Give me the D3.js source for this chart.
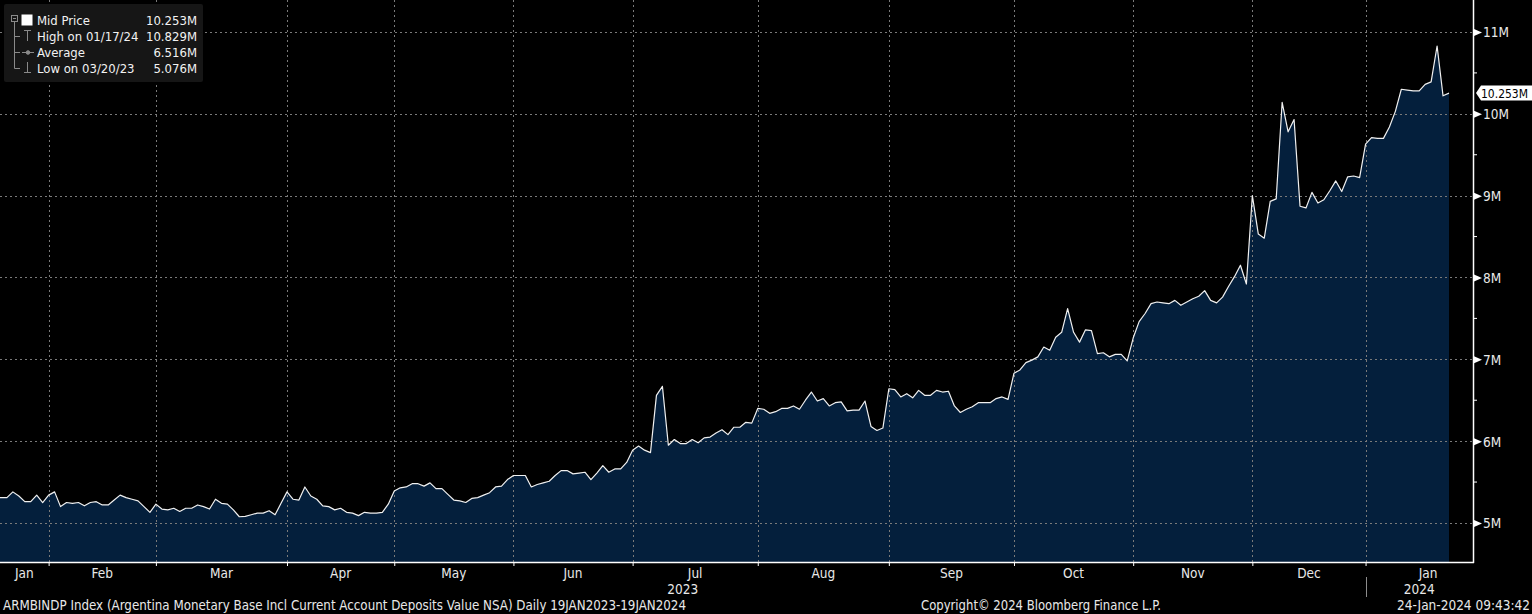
<!DOCTYPE html>
<html lang="en">
<head>
<meta charset="UTF-8">
<title>ARMBINDP Index</title>
<script src="https://cdn.jsdelivr.net/npm/d3@7"></script>
<style>
  html,body{margin:0;padding:0;background:#000;}
  svg{display:block;}
  text{font-family:"Liberation Sans Narrow","DejaVu Sans Condensed",sans-serif;font-size:13.5px;fill:#e8e8e8;}
</style>
</head>
<body>
<div id="chart"></div>
<script>
// Mid price in millions, one value per trading day, grouped by month
var jan23=[5.31,5.31,5.31,5.38,5.33,5.26,5.26,5.34,5.25];
var feb23=[5.34,5.38,5.20,5.25,5.24,5.25,5.21,5.25,5.26,5.22,5.22,5.28,5.34,5.31,5.29,5.27,5.20,5.13];
var mar23=[5.23,5.17,5.16,5.18,5.14,5.18,5.18,5.22,5.20,5.17,5.29,5.24,5.23,5.16,5.076,5.08,5.10,5.12,5.12,5.15,5.10,5.24];
var apr23=[5.38,5.29,5.28,5.44,5.33,5.29,5.21,5.20,5.16,5.18,5.13,5.12,5.09,5.13,5.12,5.12,5.13,5.23];
var may23=[5.39,5.43,5.44,5.48,5.48,5.45,5.49,5.42,5.42,5.35,5.28,5.27,5.25,5.30,5.31,5.34,5.37,5.44,5.45,5.53];
var jun23=[5.58,5.58,5.58,5.44,5.47,5.49,5.51,5.58,5.64,5.64,5.60,5.61,5.62,5.53,5.61,5.70,5.62,5.66,5.66,5.74];
var jul23=[5.89,5.94,5.89,5.86,6.56,6.67,5.95,6.02,5.97,5.97,6.02,5.98,6.04,6.05,6.10,6.14,6.08,6.17,6.17,6.23,6.22];
var aug23=[6.40,6.39,6.34,6.36,6.40,6.40,6.43,6.39,6.50,6.60,6.49,6.52,6.43,6.47,6.48,6.37,6.38,6.38,6.49,6.18,6.13,6.16];
var sep23=[6.64,6.63,6.54,6.58,6.53,6.62,6.56,6.56,6.62,6.60,6.61,6.43,6.35,6.39,6.42,6.47,6.47,6.47,6.52,6.54,6.51];
var oct23=[6.83,6.87,6.96,6.99,7.03,7.15,7.11,7.27,7.33,7.62,7.33,7.21,7.36,7.35,7.07,7.08,7.03,7.06,7.06,6.98];
var nov23=[7.26,7.46,7.56,7.68,7.70,7.69,7.68,7.72,7.66,7.70,7.74,7.77,7.84,7.72,7.69,7.76,7.89,8.01,8.15,7.92];
var dec23=[9.00,8.53,8.48,8.93,8.96,10.14,9.78,9.93,8.87,8.85,9.04,8.91,8.95,9.06,9.18,9.05,9.23,9.24,9.22];
var jan24=[9.63,9.71,9.70,9.70,9.84,10.03,10.30,10.29,10.28,10.28,10.36,10.39,10.829,10.22,10.253];

var monthNames=["Jan","Feb","Mar","Apr","May","Jun","Jul","Aug","Sep","Oct","Nov","Dec","Jan"];
var monthValues=[jan23,feb23,mar23,apr23,may23,jun23,jul23,aug23,sep23,oct23,nov23,dec23,jan24];
var yearNames=["2023","2024"];
var yTicks=[5,6,7,8,9,10,11];
var yMinor=[5.5,6.5,7.5,8.5,9.5,10.5];
var legendLabels=["Mid Price","High on 01/17/24","Average","Low on 03/20/23"];
var legendValues=["10.253M","10.829M","6.516M","5.076M"];
var lastPrice=10.253;
var footLeft="ARMBINDP Index (Argentina Monetary Base Incl Current Account Deposits Value NSA)  Daily 19JAN2023-19JAN2024";
var footMid="Copyright\u00a9 2024 Bloomberg Finance L.P.";
var footRight="24-Jan-2024 09:43:42";

// flatten + remember where each month starts
var series=[], monthStart=[];
monthValues.forEach(function(m){ monthStart.push(series.length); series=series.concat(m); });
var n=series.length;

var W=1532,H=614,plotR=1473,plotB=562;
var svg=d3.select('#chart').append('svg').attr('width',W).attr('height',H);
svg.append('rect').attr('width',W).attr('height',H).attr('fill','#000');

var x=d3.scaleLinear().domain([0,n-1]).range([-5,1449]);
var y=d3.scaleLinear().domain([4.523,11.391]).range([plotB,0]);

var plot=svg.append('g');
plot.append('clipPath').attr('id','clip').append('rect').attr('width',plotR).attr('height',plotB);

// area under the line
plot.append('path')
  .datum(series)
  .attr('clip-path','url(#clip)')
  .attr('fill','#041f3c')
  .attr('d',d3.area().x(function(d,i){return x(i);}).y0(plotB).y1(function(d){return y(d);}));

// dashed grid
var grid=plot.append('g').attr('stroke','#7a7a7a').attr('stroke-width',1).attr('stroke-dasharray','2,3');
grid.selectAll('.h').data(yTicks).enter().append('line')
  .attr('x1',0).attr('x2',plotR)
  .attr('y1',function(d){return Math.round(y(d))+0.5;}).attr('y2',function(d){return Math.round(y(d))+0.5;});
grid.selectAll('.v').data(monthStart.slice(1)).enter().append('line')
  .attr('y1',0).attr('y2',plotB)
  .attr('x1',function(d){return Math.round(x(d))+0.5;}).attr('x2',function(d){return Math.round(x(d))+0.5;});

plot.append('path')
  .datum(series)
  .attr('clip-path','url(#clip)')
  .attr('fill','none')
  .attr('stroke','#f0f0f0')
  .attr('stroke-width',1.2)
  .attr('stroke-linejoin','round')
  .attr('d',d3.line().x(function(d,i){return x(i);}).y(function(d){return y(d);}));

// right axis
var ya=svg.append('g').attr('transform','translate('+plotR+',0)')
  .call(d3.axisRight(y).tickValues(yTicks).tickSize(0).tickPadding(10).tickFormat(function(d){return d+'M';}));
ya.select('.domain').remove();
ya.selectAll('text').attr('fill','#e2eaf6').style('font-size','13.5px').attr('dy','0.36em');
ya.selectAll('.tick').append('path').attr('d','M1,-3.5L9,0L1,3.5Z').attr('fill','#fff');
svg.selectAll('.minor').data(yMinor).enter().append('line')
  .attr('x1',plotR).attr('x2',plotR+4)
  .attr('y1',function(d){return y(d);}).attr('y2',function(d){return y(d);})
  .attr('stroke','#fff');
svg.append('line').attr('x1',plotR+0.5).attr('x2',plotR+0.5).attr('y1',0).attr('y2',plotB+1)
  .attr('stroke','#fff').attr('stroke-width',1.5);

// bottom axis
var xa=svg.append('g').attr('transform','translate(0,'+plotB+')')
  .call(d3.axisBottom(x).tickValues(monthStart.slice(1)).tickSize(4).tickFormat(''));
xa.select('.domain').remove();
xa.selectAll('line').attr('stroke','#fff');
svg.append('line').attr('x1',0).attr('x2',plotR+1).attr('y1',plotB+0.5).attr('y2',plotB+0.5)
  .attr('stroke','#fff').attr('stroke-width',1.5);

// month labels centred in their span (last one as if the month were complete)
svg.selectAll('.mlab').data(monthNames).enter().append('text')
  .attr('text-anchor','middle')
  .attr('y',578)
  .attr('x',function(d,i){
    var a=Math.max(0,x(monthStart[i]));
    var b=i<monthStart.length-1?x(monthStart[i+1]):x(monthStart[i]+21);
    return (a+b)/2;
  })
  .text(function(d){return d;});

var yearBreak=x(monthStart[12]);
svg.selectAll('.ylab').data(yearNames).enter().append('text')
  .attr('text-anchor','middle').attr('y',594)
  .attr('x',function(d,i){return i==0?yearBreak/2:(yearBreak+plotR)/2;})
  .text(function(d){return d;});
svg.append('line').attr('x1',Math.round(yearBreak)+0.5).attr('x2',Math.round(yearBreak)+0.5)
  .attr('y1',577).attr('y2',597).attr('stroke','#8c8c8c');

// last price tag
var ly=y(lastPrice);
svg.append('path')
  .attr('d','M'+(plotR+3)+','+ly+'L'+(plotR+8)+','+(ly-7.5)+'H1532V'+(ly+7.5)+'H'+(plotR+8)+'Z')
  .attr('fill','#fff');
svg.append('text').attr('x',plotR+8).attr('y',ly).attr('dy','0.36em')
  .attr('textLength',47).attr('lengthAdjust','spacingAndGlyphs')
  .style('fill','#000').style('font-size','13px').text(d3.format('.3f')(lastPrice)+'M');

// legend
var lg=svg.append('g');
lg.append('rect').attr('x',4).attr('y',4).attr('width',199).attr('height',78).attr('rx',2).attr('fill','#161616');
var rowY=[20,36,52,68];
lg.selectAll('.ll').data(legendLabels).enter().append('text')
  .attr('x',37).attr('y',function(d,i){return rowY[i];}).attr('dy','0.36em')
  .style('fill','#f2f2f2').style('font-size','13px').text(function(d){return d;});
lg.selectAll('.lv').data(legendValues).enter().append('text')
  .attr('x',197).attr('y',function(d,i){return rowY[i];}).attr('dy','0.36em').attr('text-anchor','end')
  .style('fill','#f2f2f2').style('font-size','13px').text(function(d){return d;});
var tree=lg.append('g').attr('stroke','#8a8a8a').attr('fill','none').attr('stroke-width',1);
tree.append('rect').attr('x',11.5).attr('y',15.5).attr('width',6).attr('height',6);
tree.append('line').attr('x1',13).attr('x2',16).attr('y1',18.5).attr('y2',18.5);
tree.append('path').attr('d','M14.5,22V68.5H20M14.5,36.5H20M14.5,52.5H20');
lg.append('rect').attr('x',21.5).attr('y',14.5).attr('width',11).attr('height',11).attr('fill','#fff');
tree.append('path').attr('d','M24,30.5H31M27.5,30.5V41');            // high
tree.append('path').attr('d','M22,52.5H34');                          // average
tree.append('circle').attr('cx',28).attr('cy',52.5).attr('r',1.8).attr('fill','#8a8a8a');
tree.append('path').attr('d','M27.5,62V72.5M24,72.5H31');            // low

// footer
svg.append('text').attr('x',3).attr('y',610).attr('textLength',683).attr('lengthAdjust','spacingAndGlyphs').text(footLeft);
svg.append('text').attr('x',921).attr('y',610).attr('textLength',240).attr('lengthAdjust','spacingAndGlyphs').text(footMid);
svg.append('text').attr('x',1530).attr('y',610).attr('text-anchor','end').text(footRight);
</script>
</body>
</html>
